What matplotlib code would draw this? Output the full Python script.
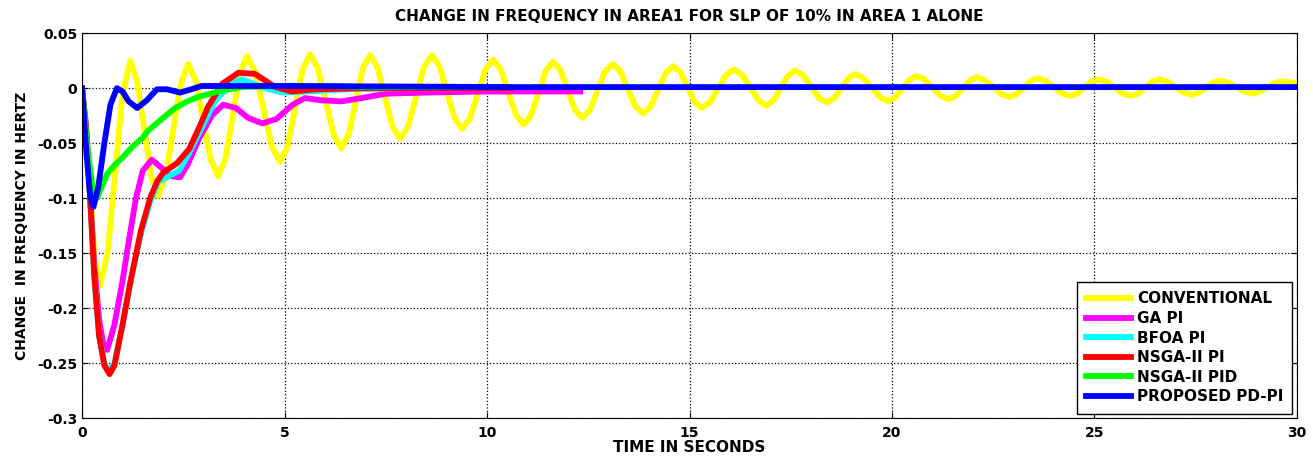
import numpy as np
import matplotlib.pyplot as plt

plt.rcParams['font.family'] = ['DejaVu Sans']
plt.rcParams['font.weight'] = 'bold'

# CONVENTIONAL (yellow)
t_conv = [0, 0.15, 0.3, 0.44, 0.63, 0.815, 1.0,
          1.19, 1.36, 1.535, 1.71, 1.88, 2.065, 2.25, 2.435,
          2.62, 2.805, 2.99, 3.175, 3.36, 3.54, 3.715, 3.89,
          4.07, 4.275, 4.48, 4.685, 4.89, 5.075, 5.26, 5.445,
          5.63, 5.82, 6.015, 6.21, 6.40, 6.58, 6.755, 6.93,
          7.11, 7.295, 7.48, 7.665, 7.85, 8.05, 8.245, 8.44,
          8.64, 8.825, 9.01, 9.195, 9.38, 9.57, 9.765, 9.96,
          10.15, 10.34, 10.525, 10.71, 10.9, 11.08, 11.265, 11.45,
          11.63, 11.81, 11.99, 12.17, 12.35, 12.54, 12.725, 12.91,
          13.1, 13.29, 13.475, 13.66, 13.85, 14.04, 14.225, 14.41,
          14.6, 14.775, 14.95, 15.125, 15.3, 15.5, 15.7, 15.9,
          16.1, 16.3, 16.5, 16.7, 16.9, 17.075, 17.25, 17.425,
          17.6, 17.8, 18.0, 18.2, 18.4, 18.575, 18.75, 18.925,
          19.1, 19.3, 19.5, 19.7, 19.9, 20.075, 20.25, 20.425,
          20.6, 20.8, 21.0, 21.2, 21.4, 21.575, 21.75, 21.925,
          22.1, 22.3, 22.5, 22.7, 22.9, 23.075, 23.25, 23.425,
          23.6, 23.8, 24.0, 24.2, 24.4, 24.575, 24.75, 24.925,
          25.1, 25.3, 25.5, 25.7, 25.9, 26.075, 26.25, 26.425,
          26.6, 26.8, 27.0, 27.2, 27.4, 27.575, 27.75, 27.925,
          28.1, 28.3, 28.5, 28.7, 28.9, 29.075, 29.25, 29.425,
          29.6, 29.8, 30.0]
f_conv = [0, -0.06, -0.15, -0.18, -0.150, -0.078, -0.005,
          0.025, 0.006, -0.037, -0.080, -0.098, -0.080, -0.038, 0.004,
          0.022, 0.007, -0.029, -0.065, -0.080, -0.064, -0.026, 0.013,
          0.029, 0.015, -0.019, -0.053, -0.067, -0.053, -0.018, 0.017,
          0.031, 0.018, -0.012, -0.042, -0.055, -0.042, -0.013, 0.018,
          0.030, 0.019, -0.008, -0.035, -0.046, -0.035, -0.008, 0.019,
          0.030, 0.020, -0.004, -0.027, -0.037, -0.028, -0.006, 0.017,
          0.026, 0.017, -0.004, -0.024, -0.033, -0.025, -0.005, 0.016,
          0.024, 0.0165, -0.0015, -0.0195, -0.027, -0.020, -0.0025, 0.015,
          0.022, 0.0155, -0.0005, -0.0165, -0.023, -0.0167, -0.0015, 0.0137,
          0.020, 0.0144, 0.001, -0.0124, -0.018, -0.013, -0.0005, 0.012,
          0.017, 0.012, 0.0005, -0.011, -0.016, -0.011, 0.0, 0.011,
          0.016, 0.012, 0.0015, -0.009, -0.013, -0.009, 0.0, 0.009,
          0.013, 0.009, 0.0005, -0.008, -0.012, -0.0085, -0.0005, 0.0075,
          0.011, 0.008, 0.0005, -0.007, -0.010, -0.007, 0.0, 0.007,
          0.010, 0.007, 0.001, -0.0055, -0.008, -0.0055, 0.0005, 0.0065,
          0.009, 0.0065, 0.001, -0.0047, -0.007, -0.005, 0.0005, 0.006,
          0.008, 0.006, 0.0005, -0.005, -0.007, -0.005, 0.0005, 0.006,
          0.008, 0.006, 0.001, -0.004, -0.006, -0.004, 0.0005, 0.005,
          0.007, 0.005, 0.001, -0.003, -0.005, -0.003, 0.0005, 0.0045,
          0.006, 0.0055, 0.004]

# GA PI (magenta)
t_ga = [0, 0.1, 0.2, 0.3, 0.42, 0.52, 0.62, 0.8, 1.0, 1.15, 1.33, 1.5, 1.72,
        1.95, 2.2, 2.42, 2.6, 2.9, 3.2, 3.48, 3.8, 4.1, 4.45, 4.8, 5.2, 5.5,
        5.9, 6.4, 6.9, 7.5, 8.5, 10.0, 12.3]
f_ga = [0, -0.04, -0.10, -0.16, -0.21, -0.232, -0.238, -0.215, -0.175, -0.14,
        -0.10, -0.075, -0.065, -0.072, -0.08, -0.081, -0.07, -0.045, -0.025,
        -0.015, -0.018, -0.027, -0.032, -0.028, -0.015, -0.009, -0.011, -0.012,
        -0.009, -0.005, -0.004, -0.003, -0.003]

# BFOA PI (cyan)
t_bfoa = [0, 0.1, 0.2, 0.3, 0.42, 0.55, 0.68, 0.8, 1.0, 1.2, 1.45, 1.68, 1.88,
          2.1, 2.4, 2.6, 2.9, 3.28, 3.7, 3.95, 4.44, 4.94, 5.6, 6.5, 8.0, 10.6]
f_bfoa = [0, -0.035, -0.10, -0.17, -0.225, -0.25, -0.258, -0.25, -0.215,
          -0.175, -0.133, -0.103, -0.085, -0.081, -0.075, -0.062, -0.04,
          -0.012, 0.005, 0.008, 0.001, -0.004, -0.003, -0.001, 0.0, 0.0]

# NSGA-II PI (red)
t_nsga = [0, 0.1, 0.2, 0.3, 0.42, 0.55, 0.68, 0.8, 1.0, 1.2, 1.45, 1.68, 1.85,
          2.0, 2.35, 2.65, 2.9, 3.11, 3.46, 3.86, 4.27, 4.77, 5.18, 5.8, 7.0, 10.6]
f_nsga = [0, -0.035, -0.10, -0.17, -0.225, -0.252, -0.26, -0.252, -0.215,
          -0.175, -0.13, -0.10, -0.085, -0.077, -0.068, -0.055, -0.035, -0.017,
          0.004, 0.014, 0.013, 0.001, -0.003, -0.001, 0.0, 0.0]

# NSGA-II PID (green)
t_pid = [0, 0.12, 0.25, 0.37, 0.48, 0.62, 0.8, 1.0, 1.25, 1.5, 1.62, 2.0, 2.3,
         2.6, 2.86, 3.36, 3.95, 4.77, 6.0, 7.0, 10.6]
f_pid = [0, -0.05, -0.088, -0.1, -0.09, -0.078, -0.07, -0.063, -0.053, -0.045,
         -0.039, -0.027, -0.018, -0.012, -0.008, -0.003, 0.001, 0.002, 0.002,
         0.001, 0.001]

# PROPOSED PD-PI (blue)
t_pdpi = [0, 0.1, 0.2, 0.28, 0.4, 0.55, 0.7, 0.86, 1.0, 1.15, 1.36, 1.6, 1.85,
          2.1, 2.42, 2.7, 2.95, 3.5, 5.0, 10.6, 30.0]
f_pdpi = [0, -0.055, -0.098, -0.108, -0.09, -0.05, -0.015, 0.0, -0.003, -0.012,
          -0.018, -0.011, -0.001, -0.001, -0.004, -0.001, 0.002, 0.002, 0.002,
          0.001, 0.001]

labels = ['CONVENTIONAL', 'GA PI', 'BFOA PI', 'NSGA-II PI', 'NSGA-II PID', 'PROPOSED PD-PI']
colors = ['#FFFF00', '#FF00FF', '#00FFFF', '#FF0000', '#00FF00', '#0000FF']

fig = plt.figure(figsize=(13.13, 4.61), dpi=100)
ax = fig.add_axes([0.0625, 0.093, 0.9253, 0.835])

series = [(t_conv, f_conv), (t_ga, f_ga), (t_bfoa, f_bfoa),
          (t_nsga, f_nsga), (t_pid, f_pid), (t_pdpi, f_pdpi)]
for (t, f), lab, c in zip(series, labels, colors):
    ax.plot(t, f, color=c, linewidth=4.2, label=lab, solid_joinstyle='round')

ax.set_xlim(0, 30)
ax.set_ylim(-0.3, 0.05)
ax.set_xticks(np.arange(0, 31, 5))
yt = [-0.3, -0.25, -0.2, -0.15, -0.1, -0.05, 0, 0.05]
ax.set_yticks(yt)
ax.set_yticklabels(['-0.3', '-0.25', '-0.2', '-0.15', '-0.1', '-0.05', '0', '0.05'])
ax.tick_params(direction='in', top=True, right=True, labelsize=10, length=4)
ax.tick_params(axis='x', pad=6)
for lbl in ax.get_xticklabels() + ax.get_yticklabels():
    lbl.set_fontweight('bold')
ax.grid(True, color='black', linestyle=':', linewidth=0.9)

ax.set_title('CHANGE IN FREQUENCY IN AREA1 FOR SLP OF 10% IN AREA 1 ALONE',
             fontsize=11, fontweight='bold', pad=9)
ax.set_xlabel('TIME IN SECONDS', fontsize=11, fontweight='bold', labelpad=0)
ax.set_ylabel('CHANGE  IN FREQUENCY IN HERTZ', fontsize=10, fontweight='bold', labelpad=6)

leg = ax.legend(loc='lower right', fontsize=11, frameon=True, fancybox=False,
                edgecolor='black', framealpha=1, handlelength=2.95,
                handletextpad=0.4, borderaxespad=0.3, labelspacing=0.3,
                borderpad=0.6)
leg.get_frame().set_linewidth(1.0)
for txt in leg.get_texts():
    txt.set_fontweight('bold')

fig.savefig('out.png', dpi=100)
